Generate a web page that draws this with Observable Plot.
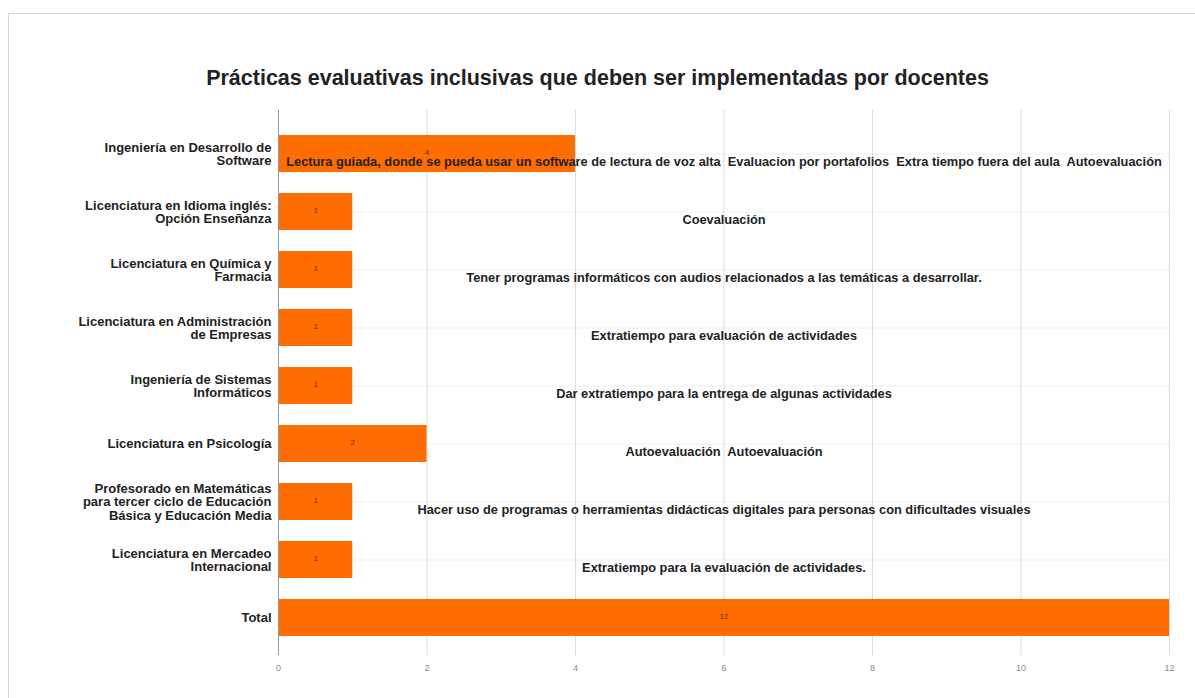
<!DOCTYPE html>
<html>
<head>
<meta charset="utf-8">
<script src="https://cdn.jsdelivr.net/npm/d3@7"></script>
<script src="https://cdn.jsdelivr.net/npm/@observablehq/plot@0.6"></script>
<style>
  html, body { margin: 0; padding: 0; background: #fff; overflow: hidden; }
  body { width: 1195px; height: 698px; position: relative; font-family: "Liberation Sans", Arial, sans-serif; }
  #frame { position: absolute; left: 8px; top: 13px; width: 1200px; height: 700px; border: 1px solid #d6d6d6; box-sizing: border-box; }
  #title { position: absolute; left: 0; width: 1195px; top: 65px; text-align: center; font-weight: bold; font-size: 21.5px; line-height: 26px; color: #222; }
  #chart { position: absolute; left: 0; top: 0; }
</style>
</head>
<body>
<div id="frame"></div>
<div id="chart"></div>
<div id="title">Prácticas evaluativas inclusivas que deben ser implementadas por docentes</div>
<script>
const categories = [
  "Ingeniería en Desarrollo de Software",
  "Licenciatura en Idioma inglés: Opción Enseñanza",
  "Licenciatura en Química y Farmacia",
  "Licenciatura en Administración de Empresas",
  "Ingeniería de Sistemas Informáticos",
  "Licenciatura en Psicología",
  "Profesorado en Matemáticas para tercer ciclo de Educación Básica y Educación Media",
  "Licenciatura en Mercadeo Internacional",
  "Total"
];
const tickLabels = [
  "Ingeniería en Desarrollo de\nSoftware",
  "Licenciatura en Idioma inglés:\nOpción Enseñanza",
  "Licenciatura en Química y\nFarmacia",
  "Licenciatura en Administración\nde Empresas",
  "Ingeniería de Sistemas\nInformáticos",
  "Licenciatura en Psicología",
  "Profesorado en Matemáticas\npara tercer ciclo de Educación\nBásica y Educación Media",
  "Licenciatura en Mercadeo\nInternacional",
  "Total"
];
const counts = [4, 1, 1, 1, 1, 2, 1, 1, 12];
const practices = [
  "Lectura guiada, donde se pueda usar un software de lectura de voz alta  Evaluacion por portafolios  Extra tiempo fuera del aula  Autoevaluación",
  "Coevaluación",
  "Tener programas informáticos con audios relacionados a las temáticas a desarrollar.",
  "Extratiempo para evaluación de actividades",
  "Dar extratiempo para la entrega de algunas actividades",
  "Autoevaluación  Autoevaluación",
  "Hacer uso de programas o herramientas didácticas digitales para personas con dificultades visuales",
  "Extratiempo para la evaluación de actividades.",
  ""
];
const xTicks = [0, 2, 4, 6, 8, 10, 12];

const data = categories.map((c, i) => ({cat: c, label: tickLabels[i], n: counts[i], txt: practices[i]}));
const labelOf = new Map(data.map(d => [d.cat, d.label]));

const chart = Plot.plot({
  width: 1195,
  height: 698,
  marginLeft: 278,
  marginRight: 26,
  marginTop: 110,
  marginBottom: 43,
  style: {fontFamily: "'Liberation Sans', Arial, sans-serif", background: "transparent"},
  x: {domain: [0, 12], ticks: xTicks},
  y: {domain: categories, paddingInner: 0.36, paddingOuter: 0.37, align: 0.574},
  marks: [
    Plot.gridY({stroke: "#efefef", strokeOpacity: 1}),
    Plot.gridX({ticks: xTicks, stroke: "#dcdcdc", strokeOpacity: 1}),
    Plot.barX(data, {x: "n", y: "cat", fill: "#ff6d01"}),
    Plot.ruleX([0], {stroke: "#8a9bb0"}),
    Plot.text(data, {x: d => d.n / 2, y: "cat", text: d => String(d.n), fontSize: 8, fill: "#6b2a00", dy: -2}),
    Plot.text(data, {y: "cat", text: "txt", dy: 8, fontSize: 12.8, fontWeight: "bold", fill: "#222"}),
    Plot.axisX({ticks: xTicks, tickSize: 0, tickPadding: 9, fontSize: 9, color: "#888", label: null}),
    Plot.axisY({tickSize: 0, tickPadding: 7, tickFormat: d => labelOf.get(d), fontSize: 13, fontWeight: "bold", fill: "#222", lineHeight: 1.05, label: null})
  ]
});
document.getElementById("chart").appendChild(chart);
</script>
</body>
</html>
